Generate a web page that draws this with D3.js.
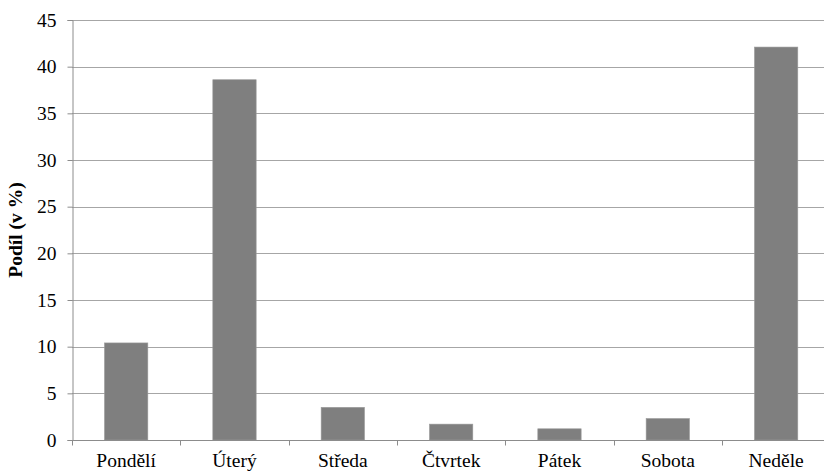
<!DOCTYPE html>
<html>
<head>
<meta charset="utf-8">
<script src="https://cdn.jsdelivr.net/npm/d3@7"></script>
<style>
  html, body { margin: 0; padding: 0; background: #fff; }
  svg { display: block; }
  svg text { font-family: "Liberation Serif", "Times New Roman", Times, serif !important; fill: #000; }
</style>
</head>
<body>
<svg id="chart" width="824" height="472"></svg>
<script>
// Share of records by day of week (in %)
const days = ["Pondělí", "Úterý", "Středa", "Čtvrtek", "Pátek", "Sobota", "Neděle"];
const shares = [10.4, 38.6, 3.5, 1.7, 1.2, 2.3, 42.1];
const yTicks = [0, 5, 10, 15, 20, 25, 30, 35, 40, 45];
const yTitle = "Podíl (v %)";

const svg = d3.select("#chart");
const margin = { left: 72, top: 20, right: -6.3, bottom: 32 };
const W = 824, H = 472;
const plotW = W - margin.left - margin.right;
const plotH = H - margin.top - margin.bottom;
const fontSize = 19.5;

const x = d3.scaleBand().domain(days).range([margin.left, margin.left + plotW]).paddingInner(0.6).paddingOuter(0.3);
const y = d3.scaleLinear().domain([0, 45]).range([margin.top + plotH, margin.top]);

const g = svg.append("g");

// horizontal gridlines
g.selectAll("line.grid").data(yTicks.filter(d => d > 0)).join("line")
  .attr("class", "grid")
  .attr("x1", margin.left).attr("x2", margin.left + plotW)
  .attr("y1", d => Math.round(y(d)) + 0.5).attr("y2", d => Math.round(y(d)) + 0.5)
  .attr("stroke", "#a6a6a6").attr("stroke-width", 1);

// bars
g.selectAll("rect.bar").data(days).join("rect")
  .attr("class", "bar")
  .attr("x", d => x(d))
  .attr("width", x.bandwidth())
  .attr("y", (d, i) => y(shares[i]))
  .attr("height", (d, i) => y(0) - y(shares[i]))
  .attr("fill", "#7f7f7f")
  .attr("stroke", "#9a9a9a").attr("stroke-width", 0.6);

// y axis
const yAxis = d3.axisLeft(y).tickValues(yTicks).tickSize(5).tickPadding(11).tickFormat(d3.format("d"));
const ya = svg.append("g").attr("transform", `translate(${margin.left + 0.5},0)`).call(yAxis);
ya.attr("font-family", null).attr("font-size", fontSize);
ya.select(".domain").attr("stroke", "#8c8c8c");
ya.selectAll(".tick line").attr("stroke", "#8c8c8c");
ya.selectAll(".tick text").attr("fill", "#000");

// x axis with ticks between categories
const xa = svg.append("g").attr("transform", `translate(0,${Math.round(y(0)) + 0.5})`);
xa.append("line").attr("x1", margin.left).attr("x2", margin.left + plotW).attr("stroke", "#8c8c8c");
const boundaries = d3.range(days.length + 1).map(i => margin.left + i * plotW / days.length);
xa.selectAll("line.tk").data(boundaries).join("line")
  .attr("class", "tk")
  .attr("x1", d => Math.round(d) + 0.5).attr("x2", d => Math.round(d) + 0.5)
  .attr("y1", 0).attr("y2", 5).attr("stroke", "#8c8c8c");
xa.selectAll("text.lbl").data(days).join("text")
  .attr("class", "lbl")
  .attr("x", d => x(d) + x.bandwidth() / 2)
  .attr("y", 26)
  .attr("text-anchor", "middle")
  .attr("font-size", fontSize)
  .text(d => d);

// y axis title
svg.append("text")
  .attr("transform", `translate(22,${margin.top + plotH / 2}) rotate(-90)`)
  .attr("text-anchor", "middle")
  .attr("font-size", fontSize)
  .attr("font-weight", "bold")
  .text(yTitle);
</script>
</body>
</html>
